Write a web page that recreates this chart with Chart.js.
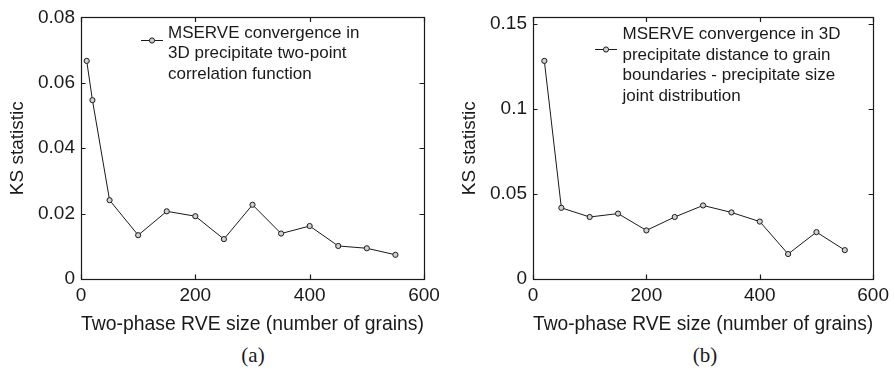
<!DOCTYPE html>
<html>
<head>
<meta charset="utf-8">
<script src="https://cdn.jsdelivr.net/npm/chart.js@4.4.1/dist/chart.umd.min.js"></script>
<style>
  html, body { margin: 0; padding: 0; background: #fff; }
  body { width: 894px; height: 371px; position: relative; overflow: hidden; }
  .panel { position: absolute; top: 0; }
  .cap { position: absolute; top: 343px; width: 60px; text-align: center;
         font-family: "Liberation Serif", "DejaVu Serif", serif; font-size: 21px; color: #1a1a1a; }
</style>
</head>
<body>
<div class="panel" style="left:0;width:447px;height:340px"><canvas id="chartA"></canvas></div>
<div class="panel" style="left:452px;width:442px;height:340px"><canvas id="chartB"></canvas></div>
<div class="cap" style="left:223px">(a)</div>
<div class="cap" style="left:675px">(b)</div>
<script>
// RVE sizes (number of grains)
const sizesA = [10, 20, 50, 100, 150, 200, 250, 300, 350, 400, 450, 500, 550];
const sizesB = [20, 50, 100, 150, 200, 250, 300, 350, 400, 450, 500, 550];

// KS statistic values
const ksTwoPoint = [0.0667, 0.0547, 0.0241, 0.0134, 0.0207, 0.0192, 0.0122, 0.0227, 0.0139, 0.0162, 0.0101, 0.0094, 0.0074];
const ksDistSize = [0.1284, 0.0419, 0.0365, 0.0385, 0.0286, 0.0365, 0.0433, 0.0392, 0.0338, 0.0147, 0.0276, 0.0170];

// Tick values
const xTicks = [0, 200, 400, 600];
const yTicksA = [0, 0.02, 0.04, 0.06, 0.08];
const yTicksB = [0, 0.05, 0.1, 0.15];

// Legend texts
const legendA = ["MSERVE convergence in", "3D precipitate two-point", "correlation function"];
const legendB = ["MSERVE convergence in 3D", "precipitate distance to grain", "boundaries - precipitate size", "joint distribution"];

const INK = '#1a1a1a';
const SANS = '"Liberation Sans", Arial, Helvetica, sans-serif';

// Box frame with inward ticks on all four sides, and a line+marker legend
const framePlugin = {
  id: 'frame',
  afterDatasetsDraw(chart, args, opts) {
    const ctx = chart.ctx;
    const a = chart.chartArea;
    const xs = chart.scales.x, ys = chart.scales.y;
    const t = 4.5;
    ctx.save();
    ctx.strokeStyle = INK;
    ctx.lineWidth = 1.2;
    ctx.strokeRect(Math.round(a.left) + 0.5, Math.round(a.top) + 0.5,
                   Math.round(a.right - a.left), Math.round(a.bottom - a.top));
    ctx.beginPath();
    xs.ticks.forEach(tk => {
      const px = Math.round(xs.getPixelForValue(tk.value)) + 0.5;
      ctx.moveTo(px, a.bottom); ctx.lineTo(px, a.bottom - t);
      ctx.moveTo(px, a.top); ctx.lineTo(px, a.top + t);
    });
    ys.ticks.forEach(tk => {
      const py = Math.round(ys.getPixelForValue(tk.value)) + 0.5;
      ctx.moveTo(a.left, py); ctx.lineTo(a.left + t, py);
      ctx.moveTo(a.right, py); ctx.lineTo(a.right - t, py);
    });
    ctx.stroke();

    // legend
    const lg = opts.legend;
    ctx.beginPath();
    ctx.lineWidth = 1;
    ctx.moveTo(lg.x0, lg.ySample); ctx.lineTo(lg.x1, lg.ySample);
    ctx.stroke();
    ctx.beginPath();
    ctx.fillStyle = '#d0d0d0';
    ctx.arc((lg.x0 + lg.x1) / 2, lg.ySample, 2.6, 0, Math.PI * 2);
    ctx.fill(); ctx.stroke();
    ctx.fillStyle = INK;
    ctx.font = '17px ' + SANS;
    ctx.textBaseline = 'alphabetic';
    ctx.textAlign = 'left';
    lg.lines.forEach((s, i) => ctx.fillText(s, lg.xText, lg.y0 + i * lg.dy));
    ctx.restore();
  }
};

function makeChart(id, xs, ys, yTicks, yMax, legend) {
  const pts = xs.map((x, i) => ({ x: x, y: ys[i] }));
  return new Chart(document.getElementById(id), {
    type: 'line',
    data: {
      datasets: [{
        data: pts,
        borderColor: INK,
        borderWidth: 1,
        pointRadius: 2.6,
        pointBorderWidth: 1,
        pointBackgroundColor: '#d0d0d0',
        pointBorderColor: INK,
        tension: 0,
        fill: false
      }]
    },
    options: {
      responsive: true,
      maintainAspectRatio: false,
      animation: false,
      events: [],
      layout: { padding: { top: 14, right: legend.padRight, bottom: 0, left: 0 } },
      plugins: {
        legend: { display: false },
        tooltip: { enabled: false },
        frame: { legend: legend }
      },
      scales: {
        x: {
          type: 'linear',
          min: 0, max: 600,
          afterBuildTicks: s => { s.ticks = xTicks.map(v => ({ value: v })); },
          afterFit: s => { s.height = 61; },
          grid: { display: false, drawTicks: false },
          border: { display: false },
          ticks: { color: INK, font: { family: SANS, size: 19 }, padding: 5, maxRotation: 0,
                   callback: v => String(v) },
          title: { display: true, text: 'Two-phase RVE size (number of grains)', color: INK,
                   font: { family: SANS, size: 20 }, padding: { top: 0, bottom: 4 } }
        },
        y: {
          type: 'linear',
          min: 0, max: yMax,
          afterBuildTicks: s => { s.ticks = yTicks.map(v => ({ value: v })); },
          afterFit: s => { s.width = 81; },
          grid: { display: false, drawTicks: false },
          border: { display: false },
          ticks: { color: INK, font: { family: SANS, size: 19 }, padding: 6,
                   callback: v => String(v) },
          title: { display: true, text: 'KS statistic', color: INK,
                   font: { family: SANS, size: 19 }, padding: { top: 6, bottom: 0 } }
        }
      }
    },
    plugins: [framePlugin]
  });
}

makeChart('chartA', sizesA, ksTwoPoint, yTicksA, 0.08,
  { padRight: 23, x0: 141, x1: 163, ySample: 40.5, xText: 168, y0: 37.5, dy: 20.8, lines: legendA });
makeChart('chartB', sizesB, ksDistSize, yTicksB, 0.154,
  { padRight: 16, x0: 143, x1: 165, ySample: 49.5, xText: 170.5, y0: 39, dy: 20.5, lines: legendB });
</script>
</body>
</html>
